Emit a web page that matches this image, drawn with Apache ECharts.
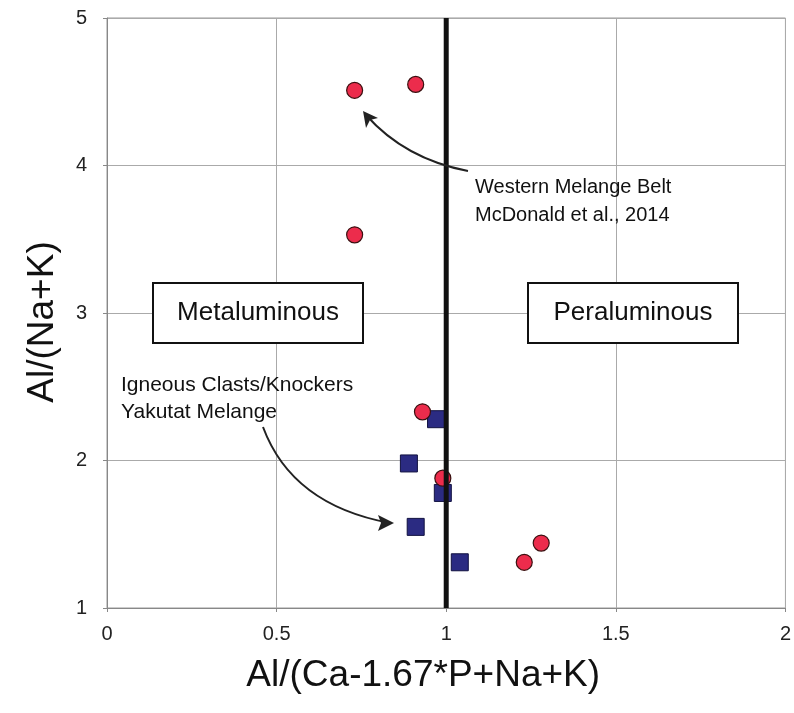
<!DOCTYPE html>
<html>
<head>
<meta charset="utf-8">
<script src="https://cdn.jsdelivr.net/npm/echarts@6/dist/echarts.min.js"></script>
<style>
html, body { margin: 0; padding: 0; background: #fff; }
#chart { width: 794px; height: 713px; }
</style>
</head>
<body>
<div id="chart"></div>
<script>
// Western Melange Belt (McDonald et al., 2014) - red circles
var westernX = [0.73, 0.91, 0.73, 0.93, 0.99, 1.23, 1.28];
var westernY = [4.51, 4.55, 3.53, 2.33, 1.88, 1.31, 1.44];
// Igneous clasts / knockers, Yakutat Melange - blue squares
var yakutatX = [0.97, 0.89, 0.99, 0.91, 1.04];
var yakutatY = [2.28, 1.98, 1.78, 1.55, 1.31];
// metaluminous / peraluminous divide
var divideX = [1, 1];
var divideY = [1, 5];
var xTicks = ["0", "0.5", "1", "1.5", "2"];
var yTicks = ["1", "2", "3", "4", "5"];

function pairs(xs, ys) {
	return xs.map(function (x, i) { return [x, ys[i]]; });
}

var chart = echarts.init(document.getElementById("chart"));
var font = "Liberation Sans, Arial, sans-serif";

var option = {
	animation: false,
	grid: {
		left: 107,
		right: 8,
		top: 18,
		bottom: 105,
		show: true,
		borderColor: "#999",
		borderWidth: 1,
	},
	xAxis: {
		type: "value",
		min: 0,
		max: 2,
		interval: 0.5,
		name: "Al/(Ca-1.67*P+Na+K)",
		nameLocation: "middle",
		nameGap: 49,
		nameTextStyle: { fontFamily: font, fontSize: 37, color: "#111", padding: [0, 46, 0, 0] },
		axisLine: { show: true, lineStyle: { color: "#888" } },
		axisTick: { show: true, length: 4, lineStyle: { color: "#888" } },
		axisLabel: {
			fontFamily: font,
			fontSize: 20,
			color: "#222",
			margin: 16,
			formatter: function (v) { return xTicks[Math.round(v / 0.5)]; },
		},
		splitLine: { show: true, lineStyle: { color: "#aaa", width: 1 } },
	},
	yAxis: {
		type: "value",
		min: 1,
		max: 5,
		interval: 1,
		name: "Al/(Na+K)",
		nameLocation: "middle",
		nameGap: 46,
		nameTextStyle: { fontFamily: font, fontSize: 37, color: "#111", padding: [0, 18, 0, 0] },
		axisLine: { show: true, lineStyle: { color: "#888" } },
		axisTick: { show: true, length: 4, lineStyle: { color: "#888" } },
		axisLabel: {
			fontFamily: font,
			fontSize: 20,
			color: "#222",
			margin: 20,
			formatter: function (v) { return yTicks[Math.round(v - 1)]; },
		},
		splitLine: { show: true, lineStyle: { color: "#aaa", width: 1 } },
	},
	series: [
		{
			name: "Yakutat Melange",
			type: "scatter",
			symbol: "rect",
			symbolSize: 17,
			itemStyle: { color: "#2b2b82", borderColor: "#121240", borderWidth: 1, opacity: 1 },
			data: pairs(yakutatX, yakutatY),
			z: 3,
		},
		{
			name: "Western Melange Belt",
			type: "scatter",
			symbol: "circle",
			symbolSize: 16,
			itemStyle: { color: "#ec2c4c", borderColor: "#3a1010", borderWidth: 1.2, opacity: 1 },
			data: pairs(westernX, westernY),
			z: 4,
		},
		{
			name: "divide",
			type: "line",
			symbol: "none",
			lineStyle: { color: "#111", width: 5 },
			data: pairs(divideX, divideY),
			z: 5,
		},
	],
};
chart.setOption(option);

// annotation boxes, labels and curved arrows
chart.setOption({
	graphic: [
		{
			type: "group",
			children: [
				{ type: "rect", shape: { x: 153, y: 283, width: 210, height: 60 }, style: { fill: "#fff", stroke: "#111", lineWidth: 2 }, z: 10 },
				{ type: "text", x: 258, y: 313, style: { text: "Metaluminous", font: "26px " + font, fill: "#111", textAlign: "center", textVerticalAlign: "middle" }, z: 11 },
				{ type: "rect", shape: { x: 528, y: 283, width: 210, height: 60 }, style: { fill: "#fff", stroke: "#111", lineWidth: 2 }, z: 10 },
				{ type: "text", x: 633, y: 313, style: { text: "Peraluminous", font: "26px " + font, fill: "#111", textAlign: "center", textVerticalAlign: "middle" }, z: 11 },

				{ type: "text", x: 121, y: 385, style: { text: "Igneous Clasts/Knockers", font: "21px " + font, fill: "#111", textVerticalAlign: "middle" }, z: 11 },
				{ type: "text", x: 121, y: 412, style: { text: "Yakutat Melange", font: "21px " + font, fill: "#111", textVerticalAlign: "middle" }, z: 11 },
				{ type: "bezierCurve", shape: { x1: 263, y1: 427, x2: 390, y2: 523, cpx1: 292, cpy1: 505 }, style: { stroke: "#222", lineWidth: 2, fill: null }, z: 11 },
				{ type: "polygon", shape: { points: [[394, 523], [378, 515], [381, 523], [378, 531]] }, style: { fill: "#222" }, z: 11 },

				{ type: "text", x: 475, y: 187, style: { text: "Western Melange Belt", font: "20px " + font, fill: "#111", textVerticalAlign: "middle" }, z: 11 },
				{ type: "text", x: 475, y: 215, style: { text: "McDonald et al., 2014", font: "20px " + font, fill: "#111", textVerticalAlign: "middle" }, z: 11 },
				{ type: "bezierCurve", shape: { x1: 468, y1: 171, x2: 366, y2: 115, cpx1: 405, cpy1: 159 }, style: { stroke: "#222", lineWidth: 2, fill: null }, z: 11 },
				{ type: "polygon", shape: { points: [[363, 111], [366, 128], [370, 120], [378, 118]] }, style: { fill: "#222" }, z: 11 },
			],
		},
	],
});
</script>
</body>
</html>
